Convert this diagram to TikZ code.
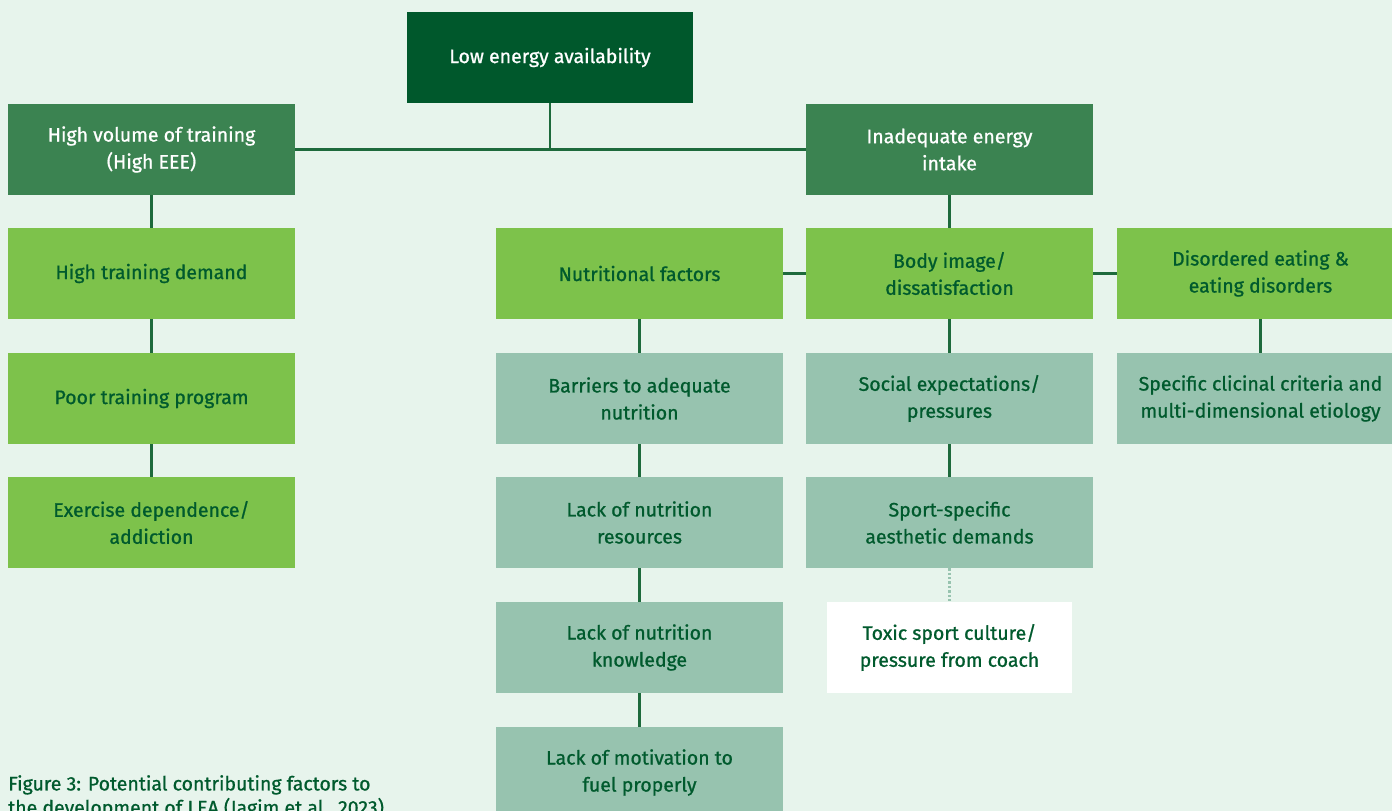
\documentclass[tikz,border=0pt]{standalone}
\usepackage{fontspec}
\setmainfont{Fira Sans}[UprightFeatures={FakeBold=0.9}]
\definecolor{bg}{HTML}{E7F4EC}
\definecolor{cdark}{HTML}{00582C}
\definecolor{cmid}{HTML}{3B8351}
\definecolor{clight}{HTML}{7DC24B}
\definecolor{cgrey}{HTML}{97C3AF}
\definecolor{ctext}{HTML}{005A2D}
\definecolor{cline}{HTML}{1E6A3C}
\begin{document}
\begin{tikzpicture}[x=1pt,y=-1pt,
  box/.style={inner sep=0pt,minimum width=287pt,minimum height=91pt,align=center,font=\fontsize{19.5}{27}\selectfont,text=ctext},
  topbox/.style={box,fill=cdark,text=white,minimum width=286pt},
  midbox/.style={box,fill=cmid,text=white},
  lightbox/.style={box,fill=clight},
  greybox/.style={box,fill=cgrey},
  whitebox/.style={box,fill=white,minimum width=245pt},
  conn/.style={draw=cline,line width=2.6pt},
  dotconn/.style={draw=cgrey,line width=2.4pt,dotted}]
\fill[bg] (0,0) rectangle (1392,811);
\clip (0,0) rectangle (1392,811);
\node[topbox] (lea) at (550,57.5) {Low energy availability};
\node[midbox] (hv) at (151.5,149.5) {High volume of training\\(High EEE)};
\node[midbox] (ia) at (949.5,149.5) {Inadequate energy\\intake};
\node[lightbox] (htd) at (151.5,273.5) {High training demand};
\node[lightbox] (ptp) at (151.5,398.5) {Poor training program};
\node[lightbox] (exd) at (151.5,522.5) {Exercise dependence/\\addiction};
\node[lightbox] (nf) at (639.5,273.5) {Nutritional factors};
\node[lightbox] (bi) at (949.5,273.5) {Body image/\\dissatisfaction};
\node[lightbox] (de) at (1260.5,273.5) {Disordered eating \&\\eating disorders};
\node[greybox] (ban) at (639.5,398.5) {Barriers to adequate\\nutrition};
\node[greybox] (lnr) at (639.5,522.5) {Lack of nutrition\\resources};
\node[greybox] (lnk) at (639.5,647.5) {Lack of nutrition\\knowledge};
\node[greybox] (lmf) at (639.5,772.5) {Lack of motivation to\\fuel properly};
\node[greybox] (sep) at (949.5,398.5) {Social expectations/\\pressures};
\node[greybox] (ssa) at (949.5,522.5) {Sport-specific\\aesthetic demands};
\node[whitebox] (tsc) at (949.5,647.5) {Toxic sport culture/\\pressure from coach};
\node[greybox] (scc) at (1260.5,398.5) {Specific clicinal criteria and\\multi-dimensional etiology};
\node[anchor=north west,inner sep=0pt,align=left,text=ctext,font=\fontsize{19.5}{24}\selectfont] (cap) at (8,775) {Figure 3: Potential contributing factors to\\the development of LEA (Jagim et al., 2023)};
\coordinate (j) at (lea.south |- hv.east);
\draw[conn] (lea.south) -- (j);
\draw[conn] (hv.east) -- (ia.west);
\draw[conn] (hv) -- (htd);
\draw[conn] (htd) -- (ptp);
\draw[conn] (ptp) -- (exd);
\draw[conn] (ia) -- (bi);
\draw[conn] (nf) -- (bi);
\draw[conn] (bi) -- (de);
\draw[conn] (nf) -- (ban);
\draw[conn] (ban) -- (lnr);
\draw[conn] (lnr) -- (lnk);
\draw[conn] (lnk) -- (lmf);
\draw[conn] (bi) -- (sep);
\draw[conn] (sep) -- (ssa);
\draw[conn] (de) -- (scc);
\draw[dotconn] (ssa) -- (tsc);
\end{tikzpicture}
\end{document}
